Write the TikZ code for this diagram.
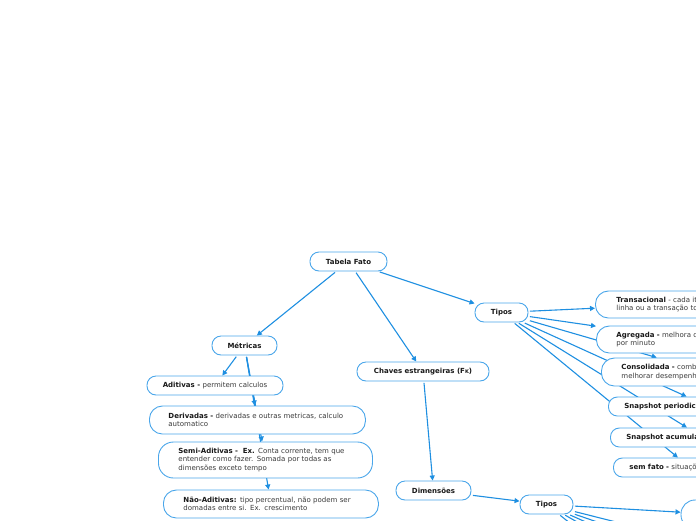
\documentclass[tikz,border=0pt]{standalone}
\usepackage{fontspec}
\setmainfont{DejaVu Sans}
\usetikzlibrary{arrows.meta,backgrounds}
\definecolor{linha}{HTML}{1E8FE1}
\definecolor{borda}{HTML}{4AA6EA}
\definecolor{texto}{HTML}{3A3A3A}
\newcommand{\destaque}[1]{\textbf{\color{black!90}#1}}
\begin{document}
\begin{tikzpicture}[
x=1pt, y=-1pt,
every node/.style={font=\fontsize{7}{8.6}\selectfont, text=texto},
topico/.style={draw=borda, line width=0.9pt, fill=white, rounded corners=9pt,
  minimum height=19pt, inner sep=0pt, font=\fontsize{7}{8.6}\selectfont\bfseries, text=black!90},
bloco/.style={draw=borda, line width=0.9pt, fill=white, rounded corners=13pt,
  inner xsep=#1, inner ysep=0pt, align=left, anchor=west},
liga/.style={draw=linha, line width=1.1pt, -{Triangle[length=5pt,width=5pt]}, shorten <=1.5pt}
]
\useasboundingbox (0,0) rectangle (696,520);
\clip (0,0) rectangle (696,520);

\node[topico, minimum width=77pt] (tabela) at (348.5,261.5) {Tabela Fato};
\node[topico, minimum width=53pt] (tipos) at (501.5,312.5) {Tipos};
\node[topico, minimum width=65pt] (metricas) at (244.5,345.5) {Métricas};
\node[topico, minimum width=132pt] (chaves) at (423,371.5)
  {Chaves estrangeiras (F{\fontsize{5}{6}\selectfont K})};
\node[topico, minimum width=136pt] (aditivas) at (215,385.5)
  {Aditivas - \textmd{\color{texto}permitem calculos}};
\node[topico, minimum width=75pt] (dimensoes) at (433.5,490.5) {Dimensões};
\node[topico, minimum width=53pt] (tiposdim) at (546.5,504.5) {Tipos};

\node[bloco=19pt, text width=178pt, minimum height=28pt] (derivadas) at (149,420)
  {\destaque{Derivadas -} derivadas e outras metricas, calculo\\automatico};
\node[bloco=20pt, text width=174pt, minimum height=36pt, rounded corners=15pt] (semiaditivas) at (158,460)
  {\destaque{Semi-Aditivas -\ \ Ex.} Conta corrente, tem que\\entender como fazer. Somada por todas as\\dimensões exceto tempo};
\node[bloco=20pt, text width=175pt, minimum height=28pt] (naoaditivas) at (163,504)
  {\destaque{Não-Aditivas:} tipo percentual, não podem ser\\domadas entre si. Ex. crescimento};

\node[bloco=21pt, text width=118pt, minimum height=27pt] (transacional) at (595,304.5)
  {\destaque{Transacional} - cada it\\linha ou a transação to};
\node[bloco=20pt, text width=144pt, minimum height=27pt] (agregada) at (596,339.5)
  {\destaque{Agregada -} melhora d\\por minuto};
\node[bloco=20pt, text width=170pt, minimum height=28pt] (consolidada) at (601,372)
  {\destaque{Consolidada -} comb\\melhorar desempenh};
\node[bloco=16pt, text width=168pt, minimum height=19pt, rounded corners=9pt] (snapperiodico) at (608,406.5)
  {\destaque{Snapshot periodico}};
\node[bloco=16pt, text width=153pt, minimum height=19pt, rounded corners=9pt] (snapacumulado) at (610,437.5)
  {\destaque{Snapshot acumulado}};
\node[bloco=16pt, text width=121pt, minimum height=19pt, rounded corners=9pt] (semfato) at (613,467.5)
  {\destaque{sem fato -} situaçõ};
\node[topico, minimum width=80pt, minimum height=29pt, rounded corners=14pt] (dimfilho) at (721,514.5) {};

\coordinate (d1) at (640,528);
\coordinate (d2) at (635,535);
\coordinate (d3) at (615,535);
\coordinate (d4) at (600,535);
\coordinate (d5) at (585,535);

\begin{scope}[on background layer]
\clip (0,0) rectangle (696,520);
\draw[liga] (tabela) -- (metricas);
\draw[liga] (tabela) -- (chaves);
\draw[liga] (tabela) -- (tipos);
\draw[liga] (metricas) -- (aditivas);
\draw[liga] (metricas) -- (derivadas);
\draw[liga] (metricas) -- (semiaditivas);
\draw[liga] (metricas) -- (naoaditivas);
\draw[liga] (chaves) -- (dimensoes);
\draw[liga] (dimensoes) -- (tiposdim);
\draw[liga] (tipos) -- (transacional);
\draw[liga] (tipos) -- (agregada);
\draw[liga] (tipos) -- (consolidada);
\draw[liga] (tipos) -- (snapperiodico);
\draw[liga] (tipos) -- (snapacumulado);
\draw[liga] (tipos) -- (semfato);
\draw[liga] (tiposdim) -- (dimfilho);
\foreach \d in {d1,d2,d3,d4,d5}
  \draw[liga] (tiposdim) -- (\d);
\end{scope}
\end{tikzpicture}
\end{document}
